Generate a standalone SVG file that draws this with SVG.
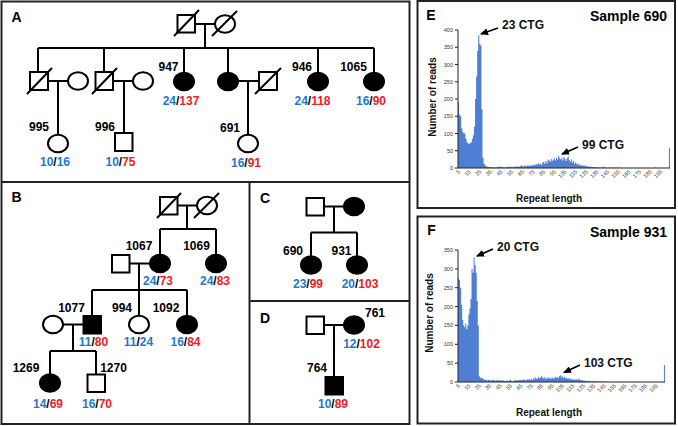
<svg xmlns="http://www.w3.org/2000/svg" width="678" height="426" viewBox="0 0 678 426">
<style>
.ln{stroke:#000;stroke-width:2;fill:none}
.sh{stroke:#000;stroke-width:2;fill:#fff}
.af{stroke:#000;stroke-width:2;fill:#000}
.fr{stroke:#222;stroke-width:2;fill:none}
.t{font-family:"Liberation Sans",Arial,sans-serif;font-weight:bold;font-size:12px;text-anchor:middle;fill:#000}
.pl{font-family:"Liberation Sans",Arial,sans-serif;font-weight:bold;font-size:14px;text-anchor:middle;fill:#000}
.b{fill:#1f78cf}
.r{fill:#ee1b24}
.ax{stroke:#222;stroke-width:1;fill:none}
.tk{font-family:"Liberation Sans",Arial,sans-serif;font-size:5.5px;fill:#333}
.yl{text-anchor:end}
.xl{text-anchor:end}
.at{font-family:"Liberation Sans",Arial,sans-serif;font-weight:bold;font-size:10px;text-anchor:middle;fill:#111}
.ct{font-family:"Liberation Sans",Arial,sans-serif;font-weight:bold;font-size:12px;fill:#111}
.hs{fill:#4f7fd4;stroke:none}
.ar{stroke:#000;stroke-width:1.8;fill:none}
</style>
<defs>
<marker id="ah" markerUnits="userSpaceOnUse" markerWidth="8" markerHeight="7" refX="7" refY="3.5" orient="auto">
<path d="M0,0 L8,3.5 L0,7 z" fill="#000"/>
</marker>
</defs>

<g id="frames">
<rect class="fr" x="1.5" y="1.5" width="408" height="422.5"/>
<path class="fr" d="M1.5,182 H409.5 M249.5,182 V424 M249.5,301 H409.5"/>
<rect class="fr" x="417.5" y="1" width="257.5" height="207"/>
<rect class="fr" x="417.5" y="216.5" width="257.5" height="207"/>
</g>

<g id="panel-labels">
<text class="pl" x="16.5" y="22">A</text>
<text class="pl" x="16.5" y="202">B</text>
<text class="pl" x="265" y="203">C</text>
<text class="pl" x="265" y="323">D</text>
<text class="pl" x="431" y="20">E</text>
<text class="pl" x="431.5" y="235">F</text>
</g>

<g id="connectors">
<!-- A -->
<path class="ln" d="M195,24 H215 M205,24 V48 M38,48 H374 M38,48 V72 M104,48 V72 M184,48 V72.5 M228,48 V72.5 M318,48 V72.5 M374,48 V72.5"/>
<path class="ln" d="M48,81 H68 M58,81 V135 M113,81 H133 M124,81 V133 M238,81 H259 M248,81 V135"/>
<!-- B -->
<path class="ln" d="M177.5,205.5 H197 M187,205.5 V229 M160,229 H216 M160,229 V255 M216,229 V255"/>
<path class="ln" d="M129.5,263.5 H150 M139,263.5 V290 M92,290 H187 M92,290 V316 M139,290 V316 M187,290 V316"/>
<path class="ln" d="M63,324.5 H83.5 M73,324.5 V351 M50,351 H96 M50,351 V374.5 M96,351 V374.5"/>
<!-- C -->
<path class="ln" d="M324,206.5 H344 M334,206.5 V232.5 M311,232.5 H357 M311,232.5 V256.5 M357,232.5 V256.5"/>
<!-- D -->
<path class="ln" d="M324,325 H344 M334,325 V377"/>
</g>

<!-- Panel A nodes -->
<g id="A-I1"><rect class="sh" x="177.5" y="15" width="17.5" height="17.5"/><path class="ln" d="M174,36 L199,10"/></g>
<g id="A-I2"><ellipse class="sh" cx="225" cy="24" rx="10" ry="8.75"/><path class="ln" d="M212,36 L237,11"/></g>
<g id="A-II1"><rect class="sh" x="30" y="72" width="18" height="18"/><path class="ln" d="M27,94 L52,68"/></g>
<g id="A-II1w"><ellipse class="sh" cx="78" cy="81" rx="10" ry="8.75"/></g>
<g id="A-II2"><rect class="sh" x="95.5" y="72" width="17.5" height="18"/><path class="ln" d="M92,94 L117,68"/></g>
<g id="A-II2w"><ellipse class="sh" cx="143" cy="81" rx="10" ry="8.75"/></g>
<g id="A-947"><ellipse class="af" cx="184" cy="81.5" rx="10" ry="8.75"/><text class="t" x="168.5" y="70.5">947</text><text class="t" x="181" y="104.5"><tspan class="b">24</tspan>/<tspan class="r">137</tspan></text></g>
<g id="A-II5"><ellipse class="af" cx="228" cy="81.5" rx="10" ry="8.75"/></g>
<g id="A-II5h"><rect class="sh" x="259" y="72" width="18" height="18"/><path class="ln" d="M255,94 L281,68"/></g>
<g id="A-946"><ellipse class="af" cx="318" cy="81.5" rx="10" ry="8.75"/><text class="t" x="302" y="70.5">946</text><text class="t" x="312.5" y="104.5"><tspan class="b">24</tspan>/<tspan class="r">118</tspan></text></g>
<g id="A-1065"><ellipse class="af" cx="374" cy="81.5" rx="10" ry="8.75"/><text class="t" x="353.5" y="70.5">1065</text><text class="t" x="371" y="104.5"><tspan class="b">16</tspan>/<tspan class="r">90</tspan></text></g>
<g id="A-995"><ellipse class="sh" cx="58" cy="143.5" rx="10" ry="8.75"/><text class="t" x="39" y="130.5">995</text><text class="t" x="55" y="165.5"><tspan class="b">10</tspan>/<tspan class="b">16</tspan></text></g>
<g id="A-996"><rect class="sh" x="115" y="133" width="17.5" height="18"/><text class="t" x="105" y="130.5">996</text><text class="t" x="120.5" y="165.5"><tspan class="b">10</tspan>/<tspan class="r">75</tspan></text></g>
<g id="A-691"><ellipse class="sh" cx="248" cy="143.5" rx="10" ry="8.75"/><text class="t" x="230" y="131.5">691</text><text class="t" x="246" y="166.5"><tspan class="b">16</tspan>/<tspan class="r">91</tspan></text></g>

<!-- Panel B nodes -->
<g id="B-I1"><rect class="sh" x="160" y="197" width="17.5" height="17.5"/><path class="ln" d="M157,218 L181,193"/></g>
<g id="B-I2"><ellipse class="sh" cx="207" cy="205.5" rx="10" ry="8.75"/><path class="ln" d="M194,218 L219,193"/></g>
<g id="B-1067"><ellipse class="af" cx="160" cy="263.5" rx="10" ry="8.75"/><text class="t" x="139" y="249.5">1067</text><text class="t" x="158" y="284.5"><tspan class="b">24</tspan>/<tspan class="r">73</tspan></text></g>
<g id="B-1067h"><rect class="sh" x="112" y="255" width="17.5" height="17.5"/></g>
<g id="B-1069"><ellipse class="af" cx="216" cy="263.5" rx="10" ry="8.75"/><text class="t" x="196.5" y="249.5">1069</text><text class="t" x="215" y="284.5"><tspan class="b">24</tspan>/<tspan class="r">83</tspan></text></g>
<g id="B-1077"><rect class="af" x="83.5" y="316" width="17.5" height="17.5"/><text class="t" x="71.5" y="311.5">1077</text><text class="t" x="93.5" y="345.5"><tspan class="b">11</tspan>/<tspan class="r">80</tspan></text></g>
<g id="B-1077w"><ellipse class="sh" cx="53" cy="324.5" rx="10" ry="8.75"/></g>
<g id="B-994"><ellipse class="sh" cx="139" cy="324.5" rx="10" ry="8.75"/><text class="t" x="122" y="311.5">994</text><text class="t" x="138.5" y="345.5"><tspan class="b">11</tspan>/<tspan class="b">24</tspan></text></g>
<g id="B-1092"><ellipse class="af" cx="187" cy="324.5" rx="10" ry="8.75"/><text class="t" x="166" y="311.5">1092</text><text class="t" x="185.5" y="345.5"><tspan class="b">16</tspan>/<tspan class="r">84</tspan></text></g>
<g id="B-1269"><ellipse class="af" cx="50" cy="383" rx="10" ry="8.75"/><text class="t" x="26" y="371.5">1269</text><text class="t" x="48" y="407.5"><tspan class="b">14</tspan>/<tspan class="r">69</tspan></text></g>
<g id="B-1270"><rect class="sh" x="87.5" y="374.5" width="17.5" height="17.5"/><text class="t" x="113.5" y="371.5">1270</text><text class="t" x="97" y="407.5"><tspan class="b">16</tspan>/<tspan class="r">70</tspan></text></g>

<!-- Panel C nodes -->
<g id="C-I1"><rect class="sh" x="306.5" y="198" width="17.5" height="17.5"/></g>
<g id="C-I2"><ellipse class="af" cx="354" cy="206.5" rx="10" ry="8.75"/></g>
<g id="C-690"><ellipse class="af" cx="311" cy="265" rx="10" ry="8.75"/><text class="t" x="293" y="254.5">690</text><text class="t" x="308" y="287.5"><tspan class="b">23</tspan>/<tspan class="r">99</tspan></text></g>
<g id="C-931"><ellipse class="af" cx="357" cy="265" rx="10" ry="8.75"/><text class="t" x="341.5" y="254.5">931</text><text class="t" x="360" y="287.5"><tspan class="b">20</tspan>/<tspan class="r">103</tspan></text></g>

<!-- Panel D nodes -->
<g id="D-I1"><rect class="sh" x="306.5" y="316.5" width="17.5" height="17.5"/></g>
<g id="D-761"><ellipse class="af" cx="354" cy="325" rx="10" ry="8.75"/><text class="t" x="375" y="316.5">761</text><text class="t" x="361.5" y="347.5"><tspan class="b">12</tspan>/<tspan class="r">102</tspan></text></g>
<g id="D-764"><rect class="af" x="325.5" y="377" width="17.5" height="17.5"/><text class="t" x="317" y="371.5">764</text><text class="t" x="333" y="407.5"><tspan class="b">10</tspan>/<tspan class="r">89</tspan></text></g>

<!-- Panel E chart -->
<g id="E-chart">
<path class="hs" transform="translate(458,168) scale(1.065,-0.345)" d="M0,0V190h1V155h1V150h1V115h1V105h1V100h2V85h1V75h1V72h1V70h1V72h1V75h1V85h1V95h1V120h1V200h1V265h1V340h1V385h1V360h1V355h1V170h1V30h1V12h1V8h1V5h1V4h1V3h1V2h1V3h1V2h2V1h1V2h1V1h1V3h1V2h2V6h1V2h1V3h1V2h1V1h1V2h1V3h1V2h1V4h1V3h1V2h1V4h1V2h1V3h1V5h1V3h1V4h1V5h1V3h1V6h1V8h1V5h1V4h1V7h1V5h1V6h1V8h1V5h1V9h1V6h1V8h1V7h1V10h1V8h1V12h1V9h1V14h1V10h1V12h1V8h1V15h1V18h1V12h1V20h1V14h1V25h1V22h1V18h1V26h1V20h1V24h1V28h1V22h1V30h1V25h1V35h1V28h1V25h1V30h1V22h1V32h1V26h1V20h1V28h1V33h1V24h1V18h1V25h1V15h1V20h1V12h1V16h1V10h1V14h1V8h1V10h1V7h1V9h1V6h1V8h1V5h1V6h1V4h1V5h1V3h1V4h1V3h1V2h1V3h1V2h1V3h1V2h1V1h1V2h1V1h1V2h1V1h1V4h1V1h1V2h1V1h1V0h1V1h1V2h1V1h1V0h1V1h1V2h1V0h1V1h1V0h1V3h1V0h1V1h1V0h7V1h1V0h4V1h1V0h9V1h1V0h9V2h1V0h12V58h1V0Z"/>
<path class="ax" d="M458,30 V168 H670 M455,30 H458 M455,47.25 H458 M455,64.5 H458 M455,81.75 H458 M455,99 H458 M455,116.25 H458 M455,133.5 H458 M455,150.75 H458 M455,168 H458"/>
<g class="tk yl">
<text x="453" y="32">400</text><text x="453" y="49.25">350</text><text x="453" y="66.5">300</text><text x="453" y="83.75">250</text><text x="453" y="101">200</text><text x="453" y="118.25">150</text><text x="453" y="135.5">100</text><text x="453" y="152.75">50</text><text x="453" y="170">0</text>
</g>
<g class="tk xl">
<text transform="translate(460.5,172) rotate(-45)">5</text>
<text transform="translate(471.15,172) rotate(-45)">15</text>
<text transform="translate(481.8,172) rotate(-45)">25</text>
<text transform="translate(492.45,172) rotate(-45)">35</text>
<text transform="translate(503.1,172) rotate(-45)">45</text>
<text transform="translate(513.75,172) rotate(-45)">55</text>
<text transform="translate(524.4,172) rotate(-45)">65</text>
<text transform="translate(535.05,172) rotate(-45)">75</text>
<text transform="translate(545.7,172) rotate(-45)">85</text>
<text transform="translate(556.35,172) rotate(-45)">95</text>
<text transform="translate(567,172) rotate(-45)">105</text>
<text transform="translate(577.65,172) rotate(-45)">115</text>
<text transform="translate(588.3,172) rotate(-45)">125</text>
<text transform="translate(598.95,172) rotate(-45)">135</text>
<text transform="translate(609.6,172) rotate(-45)">145</text>
<text transform="translate(620.25,172) rotate(-45)">155</text>
<text transform="translate(630.9,172) rotate(-45)">165</text>
<text transform="translate(641.55,172) rotate(-45)">175</text>
<text transform="translate(652.2,172) rotate(-45)">185</text>
<text transform="translate(662.85,172) rotate(-45)">195</text>
</g>
<text class="at" transform="translate(435.5,97) rotate(-90)">Number of reads</text>
<text class="at" x="549" y="201.5">Repeat length</text>
<text class="pl" x="667" y="21" style="text-anchor:end">Sample 690</text>
<text class="ct" x="502" y="28.5">23 CTG</text>
<text class="ct" x="582" y="148.5">99 CTG</text>
<path class="ar" d="M498,28 L481,34" marker-end="url(#ah)"/>
<path class="ar" d="M578,147 L562,154" marker-end="url(#ah)"/>
</g>

<!-- Panel F chart -->
<g id="F-chart">
<path class="hs" transform="translate(458,382) scale(1.04,-0.377)" d="M0,0V275h1V270h1V250h1V205h1V165h1V150h1V145h1V155h1V140h1V150h1V180h1V195h1V220h1V300h1V290h1V330h1V310h1V290h1V215h1V150h1V15h1V12h1V10h2V8h1V6h1V5h1V6h1V4h1V5h1V6h1V3h1V4h1V6h1V5h1V3h1V4h1V6h1V3h1V5h1V4h1V3h1V5h1V4h1V3h1V2h1V4h1V3h1V2h1V4h1V5h1V3h1V2h1V3h1V4h1V6h1V3h1V5h1V4h1V6h1V5h1V4h1V7h1V5h1V6h1V4h1V8h1V5h1V7h1V6h1V8h1V5h1V10h1V7h1V12h1V9h1V8h1V14h1V10h1V12h1V16h1V11h1V9h1V13h1V8h1V10h1V12h1V9h1V11h1V8h1V12h1V10h1V9h1V14h1V11h1V13h1V10h1V16h1V18h1V12h1V15h1V10h1V13h1V9h1V11h1V8h1V10h1V7h1V9h1V6h1V8h1V5h1V7h1V6h1V8h1V5h1V9h1V6h1V4h1V5h1V3h1V4h1V2h1V3h1V2h1V3h1V2h1V1h1V2h1V1h1V3h1V1h1V2h1V1h2V0h1V2h1V1h1V0h1V1h1V2h1V0h1V1h1V0h12V1h1V0h14V1h1V0h27V45h1V0Z"/>
<path class="ax" d="M458,250 V382 H665 M455,250 H458 M455,268.9 H458 M455,287.7 H458 M455,306.6 H458 M455,325.4 H458 M455,344.3 H458 M455,363.1 H458 M455,382 H458"/>
<g class="tk yl">
<text x="453" y="252">350</text><text x="453" y="270.9">300</text><text x="453" y="289.7">250</text><text x="453" y="308.6">200</text><text x="453" y="327.4">150</text><text x="453" y="346.3">100</text><text x="453" y="365.1">50</text><text x="453" y="384">0</text>
</g>
<g class="tk xl">
<text transform="translate(460.5,386) rotate(-45)">5</text>
<text transform="translate(470.9,386) rotate(-45)">15</text>
<text transform="translate(481.3,386) rotate(-45)">25</text>
<text transform="translate(491.7,386) rotate(-45)">35</text>
<text transform="translate(502.1,386) rotate(-45)">45</text>
<text transform="translate(512.5,386) rotate(-45)">55</text>
<text transform="translate(522.9,386) rotate(-45)">65</text>
<text transform="translate(533.3,386) rotate(-45)">75</text>
<text transform="translate(543.7,386) rotate(-45)">85</text>
<text transform="translate(554.1,386) rotate(-45)">95</text>
<text transform="translate(564.5,386) rotate(-45)">105</text>
<text transform="translate(574.9,386) rotate(-45)">115</text>
<text transform="translate(585.3,386) rotate(-45)">125</text>
<text transform="translate(595.7,386) rotate(-45)">135</text>
<text transform="translate(606.1,386) rotate(-45)">145</text>
<text transform="translate(616.5,386) rotate(-45)">155</text>
<text transform="translate(626.9,386) rotate(-45)">165</text>
<text transform="translate(637.3,386) rotate(-45)">175</text>
<text transform="translate(647.7,386) rotate(-45)">185</text>
<text transform="translate(658.1,386) rotate(-45)">195</text>
</g>
<text class="at" transform="translate(433,313) rotate(-90)">Number of reads</text>
<text class="at" x="549" y="415.5">Repeat length</text>
<text class="pl" x="667" y="237" style="text-anchor:end">Sample 931</text>
<text class="ct" x="497" y="250.5">20 CTG</text>
<text class="ct" x="584" y="366.5">103 CTG</text>
<path class="ar" d="M493,249 L477,256" marker-end="url(#ah)"/>
<path class="ar" d="M580,365 L564,372.5" marker-end="url(#ah)"/>
</g>
</svg>
